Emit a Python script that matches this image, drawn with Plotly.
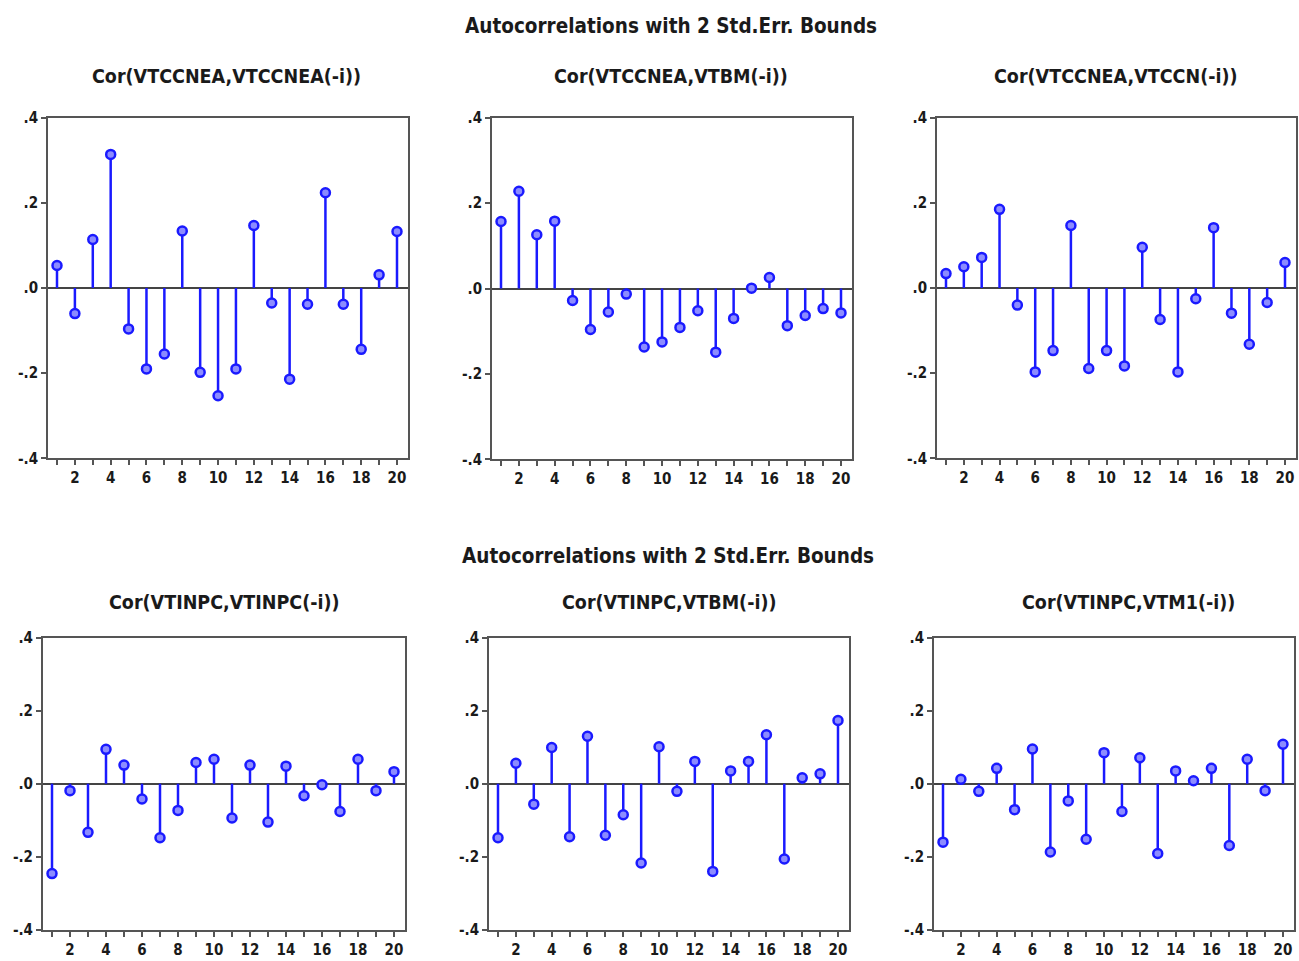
import plotly.graph_objects as go

lags = list(range(1, 21))

main_title = "Autocorrelations with 2 Std.Err. Bounds"
titles = [
    "Cor(VTCCNEA,VTCCNEA(-i))",
    "Cor(VTCCNEA,VTBM(-i))",
    "Cor(VTCCNEA,VTCCN(-i))",
    "Cor(VTINPC,VTINPC(-i))",
    "Cor(VTINPC,VTBM(-i))",
    "Cor(VTINPC,VTM1(-i))",
]

vtccnea_vtccnea = [0.053, -0.060, 0.114, 0.314, -0.096, -0.190, -0.155, 0.134, -0.198, -0.253,
                   -0.190, 0.147, -0.035, -0.214, -0.038, 0.224, -0.038, -0.144, 0.031, 0.133]
vtccnea_vtbm = [0.157, 0.228, 0.126, 0.158, -0.028, -0.096, -0.055, -0.013, -0.137, -0.125,
                -0.091, -0.052, -0.149, -0.070, 0.001, 0.026, -0.087, -0.063, -0.047, -0.057]
vtccnea_vtccn = [0.034, 0.050, 0.072, 0.185, -0.040, -0.197, -0.147, 0.147, -0.189, -0.147,
                 -0.183, 0.096, -0.074, -0.197, -0.025, 0.142, -0.059, -0.132, -0.034, 0.060]
vtinpc_vtinpc = [-0.246, -0.019, -0.133, 0.094, 0.051, -0.042, -0.148, -0.073, 0.058, 0.067,
                 -0.094, 0.051, -0.105, 0.048, -0.033, -0.003, -0.076, 0.067, -0.019, 0.033]
vtinpc_vtbm = [-0.148, 0.056, -0.056, 0.099, -0.145, 0.130, -0.141, -0.085, -0.217, 0.101,
               -0.021, 0.061, -0.240, 0.035, 0.061, 0.134, -0.206, 0.016, 0.027, 0.173]
vtinpc_vtm1 = [-0.160, 0.012, -0.021, 0.042, -0.071, 0.095, -0.187, -0.047, -0.152, 0.085,
               -0.076, 0.071, -0.191, 0.035, 0.008, 0.042, -0.169, 0.067, -0.019, 0.108]

series = [vtccnea_vtccnea, vtccnea_vtbm, vtccnea_vtccn, vtinpc_vtinpc, vtinpc_vtbm, vtinpc_vtm1]

y_tickvals = [-0.4, -0.2, 0.0, 0.2, 0.4]
y_ticktext = ["-.4", "-.2", ".0", ".2", ".4"]
x_ticktext = [str(l) if l % 2 == 0 else "" for l in lags]

W, H = 1299, 961
# vertical correction measured from the rendered picture: screen_y = AY * page_y + BY
AY, BY = 0.98, 8.3

# layout in screen pixels: (lag1 px, lag20 px, top px, bottom px)
panels_px = [
    (57, 397, 117, 457),
    (501, 841, 117, 458),
    (946, 1285, 117, 457),
    (52, 394, 636, 928),
    (498, 838, 636, 928),
    (943, 1283, 636, 928),
]
subtitle_px = [(226, 76), (671, 76), (1115, 76), (224, 601), (669, 601), (1128, 601)]
main_title_px = [(671, 25), (668, 555)]


def fx(sx):
    return sx / W


def fy(sy):
    return 1 - ((sy - BY) / AY) / H


FONT = "DejaVu Sans Condensed, Liberation Sans Narrow, Arial Narrow, Liberation Sans, Arial, sans-serif"
BLUE = "#1a1aff"
FRAME = "#555555"
TXT = "#1a1a1a"

fig = go.Figure()
layout = dict(
    width=W, height=H, autosize=False,
    margin=dict(l=0, r=0, t=0, b=0),
    paper_bgcolor="white", plot_bgcolor="white",
    showlegend=False,
    font=dict(family=FONT, color=TXT),
)
annotations = []

for i, (vals, (p1, p20, top, bot)) in enumerate(zip(series, panels_px)):
    n = i + 1
    s = (p20 - p1) / 19.0
    left = p1 - 0.5 * s
    right = min(p20 + 0.6 * s, W - 1)
    xr = [1 + (left - p1) / s, 1 + (right - p1) / s]
    xa = "x" if n == 1 else f"x{n}"
    ya = "y" if n == 1 else f"y{n}"
    sx = []
    sy = []
    for l, v in zip(lags, vals):
        sx += [l, l, None]
        sy += [0, v, None]
    fig.add_trace(go.Scatter(x=sx, y=sy, mode="lines", line=dict(color=BLUE, width=2.5),
                             xaxis=xa, yaxis=ya, hoverinfo="skip"))
    fig.add_trace(go.Scatter(x=lags, y=vals, mode="markers",
                             marker=dict(symbol="circle", size=9, color="#8c8cff",
                                         line=dict(color=BLUE, width=2.5)),
                             xaxis=xa, yaxis=ya))
    layout[f"xaxis{'' if n == 1 else n}"] = dict(
        domain=[left / W, right / W], anchor=ya, range=xr,
        tickvals=lags, ticktext=x_ticktext, ticks="outside", ticklen=5, tickwidth=1.5,
        tickcolor=FRAME, showline=True, mirror=True, linecolor=FRAME, linewidth=2,
        showgrid=False, zeroline=False, ticklabeloverflow="allow",
        tickfont=dict(family=FONT, size=15, color=TXT, weight="bold"),
    )
    layout[f"yaxis{'' if n == 1 else n}"] = dict(
        domain=[fy(bot), fy(top)], anchor=xa, range=[-0.4, 0.4],
        tickvals=y_tickvals, ticktext=y_ticktext, ticks="outside", ticklen=5, tickwidth=1.5,
        tickcolor=FRAME, showline=True, mirror=True, linecolor=FRAME, linewidth=2,
        showgrid=False, zeroline=True, zerolinecolor="#444444", zerolinewidth=2,
        tickfont=dict(family=FONT, size=15, color=TXT, weight="bold"),
    )
    cx, cy = subtitle_px[i]
    annotations.append(dict(text=titles[i], x=fx(cx), y=fy(cy), xref="paper", yref="paper",
                            xanchor="center", yanchor="middle", showarrow=False,
                            font=dict(family=FONT, size=19.5, color=TXT, weight="bold")))

for cx, cy in main_title_px:
    annotations.append(dict(text=main_title, x=fx(cx), y=fy(cy), xref="paper", yref="paper",
                            xanchor="center", yanchor="middle", showarrow=False,
                            font=dict(family=FONT, size=20.5, color=TXT, weight="bold")))

layout["annotations"] = annotations
fig.update_layout(**layout)

page_fix = (
    "document.documentElement.style.margin='0';"
    "document.body.style.margin='0';"
    "document.body.style.overflow='hidden';"
    "var gd=document.getElementById('{plot_id}');"
    "gd.style.position='fixed';gd.style.left='0px';gd.style.top='0px';"
)
fig.write_html("out.html", post_script=page_fix, config={"displayModeBar": False})
